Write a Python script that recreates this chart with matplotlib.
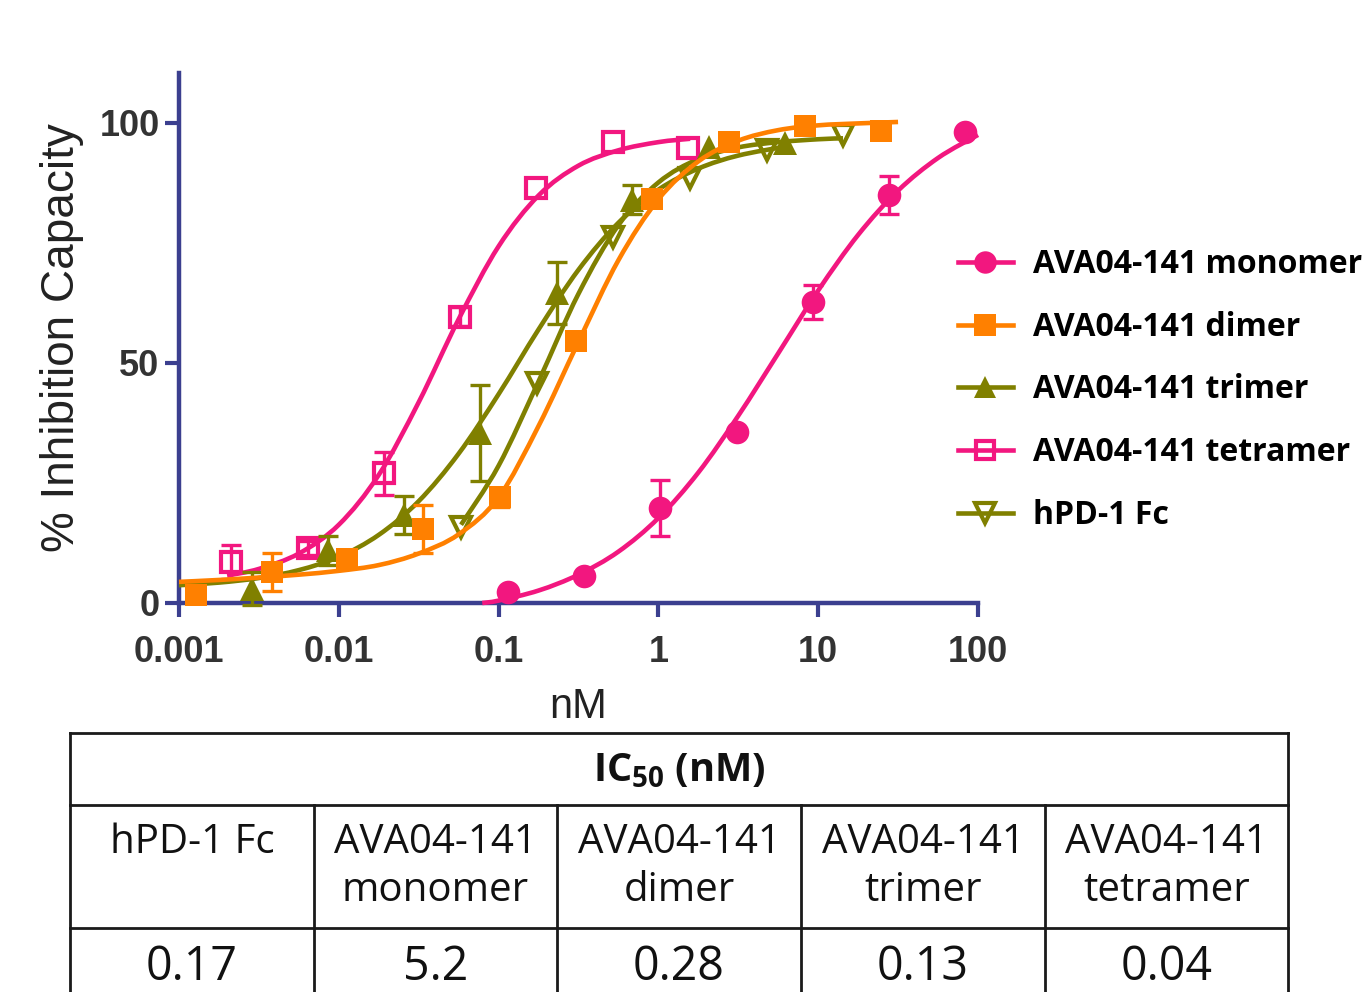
import numpy as np
import matplotlib
matplotlib.use('Agg')
import matplotlib.pyplot as plt
from matplotlib.lines import Line2D
from matplotlib.path import Path
from matplotlib.patches import PathPatch
from matplotlib.ticker import NullLocator

# ---- data ----
series = ['AVA04-141 monomer', 'AVA04-141 dimer', 'AVA04-141 trimer',
          'AVA04-141 tetramer', 'hPD-1 Fc']

# measured points (nM, % inhibition, error)
mono_x = [0.114, 0.343, 1.03, 3.09, 9.26, 27.8, 83.3]
mono_y = [2.3, 5.6, 19.8, 35.6, 62.7, 85.0, 98.1]
mono_err = [0, 0, 5.8, 0, 3.5, 4.0, 0]

dimer_x = [0.00128, 0.00382, 0.0113, 0.0336, 0.102, 0.305, 0.912, 2.77, 8.27, 24.7]
dimer_y = [1.7, 6.5, 9.2, 15.4, 22.0, 54.6, 84.2, 96.0, 99.4, 98.3]
dimer_err = [0, 3.9, 0, 5.0, 2.0, 0, 0, 0, 0, 0]

trimer_x = [0.00286, 0.0086, 0.0257, 0.0765, 0.232, 0.684, 2.07, 6.2]
trimer_y = [3.0, 11.0, 18.3, 35.4, 64.6, 84.0, 95.0, 95.8]
trimer_err = [3.5, 3.0, 4.0, 10.0, 6.5, 3.0, 0, 0]

tetra_x = [0.00211, 0.00642, 0.0192, 0.0573, 0.171, 0.520, 1.53]
tetra_y = [8.5, 11.5, 27.0, 59.6, 86.4, 96.0, 94.8]
tetra_err = [3.5, 1.5, 4.5, 2.0, 0, 0, 0]

hpd_x = [0.0582, 0.174, 0.520, 1.58, 4.78, 14.3]
hpd_y = [15.8, 45.8, 76.3, 88.5, 94.4, 97.5]
hpd_err = [0, 0, 0, 0, 0, 0]

# fitted curves
mono_cx = [0.079, 0.1, 0.178, 0.316, 0.562, 1.0, 1.78, 3.16, 5.62, 10.0, 17.8, 31.6, 56.2, 100.0]
mono_cy = [0.0, 0.5, 2.6, 5.9, 10.7, 17.7, 27.2, 39.0, 52.0, 65.1, 76.7, 85.9, 92.7, 97.5]

dimer_cx = [0.001, 0.00178, 0.00316, 0.00562, 0.01, 0.0178, 0.0316, 0.0562, 0.1, 0.178,
            0.316, 0.562, 1.0, 1.78, 3.16, 5.62, 10.0, 17.8, 31.6]
dimer_cy = [4.4, 4.8, 5.3, 5.9, 6.7, 7.9, 10.3, 14.3, 22.0, 36.9,
            54.4, 71.4, 84.1, 92.0, 96.3, 98.5, 99.5, 99.9, 100.2]

trimer_cx = [0.001, 0.00178, 0.00316, 0.00562, 0.01, 0.0178, 0.0316, 0.0562, 0.1, 0.178,
             0.316, 0.562, 1.0, 1.78, 3.16, 6.31]
trimer_cy = [3.7, 4.25, 5.2, 6.85, 9.6, 14.2, 21.2, 31.1, 43.5, 57.0,
             69.4, 79.2, 86.1, 90.5, 93.2, 95.1]

tetra_cx = [0.002, 0.00316, 0.00562, 0.01, 0.0178, 0.0316, 0.0562, 0.1, 0.178, 0.316,
            0.562, 1.0, 1.58]
tetra_cy = [5.7, 7.1, 10.3, 16.3, 26.7, 41.8, 59.1, 74.3, 84.9, 91.1,
            94.3, 96.0, 96.7]

hpd_cx = [0.0582, 0.1, 0.178, 0.316, 0.562, 1.0, 1.78, 3.16, 5.62, 10.0, 14.3]
hpd_cy = [16.3, 28.6, 46.2, 64.4, 78.7, 87.6, 92.5, 94.9, 96.0, 96.6, 96.8]

x_ticks = [0.001, 0.01, 0.1, 1, 10, 100]
x_ticklabels = ['0.001', '0.01', '0.1', '1', '10', '100']
y_ticks = [0, 50, 100]

table_header = ['hPD-1 Fc', 'AVA04-141\nmonomer', 'AVA04-141\ndimer',
                'AVA04-141\ntrimer', 'AVA04-141\ntetramer']
table_ic50 = ['0.17', '5.2', '0.28', '0.13', '0.04']

# ---- styling ----
pink = '#F2177F'
orange = '#FF8000'
olive = '#808000'
navy = '#3B3F8F'
LW = 3.3

W, H = 1367, 992
fig = plt.figure(figsize=(W / 100, H / 100), dpi=100)
plt.rcParams['mathtext.fontset'] = 'custom'
plt.rcParams['mathtext.rm'] = 'Open Sans'
plt.rcParams['mathtext.bf'] = 'Open Sans:bold'


def px_box(x0, y0, x1, y1):
    return [x0 / W, 1 - y1 / H, (x1 - x0) / W, (y1 - y0) / H]


def smooth_path(xs, ys):
    # bezier through the read points (catmull-rom in log-x space)
    lx = np.log10(xs)
    y = np.asarray(ys, dtype=float)
    n = len(lx)
    verts = [(xs[0], y[0])]
    codes = [Path.MOVETO]
    for i in range(n - 1):
        a = max(i - 1, 0)
        b = min(i + 2, n - 1)
        c1 = (lx[i] + (lx[i + 1] - lx[a]) / 6, y[i] + (y[i + 1] - y[a]) / 6)
        c2 = (lx[i + 1] - (lx[b] - lx[i]) / 6, y[i + 1] - (y[b] - y[i]) / 6)
        verts += [(10 ** c1[0], c1[1]), (10 ** c2[0], c2[1]), (xs[i + 1], y[i + 1])]
        codes += [Path.CURVE4] * 3
    return Path(verts, codes)


ax = fig.add_axes(px_box(179, 73, 978, 603))
ax.set_xscale('log')
ax.set_xlim(0.001, 100)
ax.set_ylim(0, 110.4)

styles = [
    dict(c=pink, marker='o', ms=17, mfc=pink, mew=0),
    dict(c=orange, marker='s', ms=16.5, mfc=orange, mew=0),
    dict(c=olive, marker='^', ms=17, mfc=olive, mew=0),
    dict(c=pink, marker='s', ms=14, mfc='none', mew=3),
    dict(c=olive, marker='v', ms=14.5, mfc='none', mew=3),
]
data = [
    (mono_x, mono_y, mono_err, mono_cx, mono_cy),
    (dimer_x, dimer_y, dimer_err, dimer_cx, dimer_cy),
    (trimer_x, trimer_y, trimer_err, trimer_cx, trimer_cy),
    (tetra_x, tetra_y, tetra_err, tetra_cx, tetra_cy),
    (hpd_x, hpd_y, hpd_err, hpd_cx, hpd_cy),
]

for i in reversed(range(len(series))):
    x, y, e, cx, cy = data[i]
    st = styles[i]
    z = 10 - i
    ax.add_patch(PathPatch(smooth_path(cx, cy), fill=False, edgecolor=st['c'],
                           lw=LW, zorder=z, clip_on=False, capstyle='butt'))
    x = np.array(x)
    y = np.array(y)
    e = np.array(e)
    m = e > 0
    if m.any():
        ax.errorbar(x[m], y[m], yerr=e[m], fmt='none', ecolor=st['c'],
                    elinewidth=2.4, capsize=7.5, capthick=2.4, zorder=z,
                    clip_on=False)
    ax.plot(x, y, ls='none', marker=st['marker'], ms=st['ms'],
            mfc=st['mfc'], mec=st['c'], mew=st['mew'], zorder=z + 0.5,
            clip_on=False)

handles = []
for i in range(len(series)):
    st = styles[i]
    handles.append(Line2D([], [], color=st['c'], lw=LW, marker=st['marker'],
                          ms=st['ms'] * 0.95, mfc=st['mfc'], mec=st['c'],
                          mew=st['mew']))

for s in ['top', 'right']:
    ax.spines[s].set_visible(False)
for s in ['left', 'bottom']:
    ax.spines[s].set_color(navy)
    ax.spines[s].set_linewidth(3.2)

ax.set_xticks(x_ticks)
ax.set_xticklabels(x_ticklabels)
ax.xaxis.set_minor_locator(NullLocator())
ax.set_yticks(y_ticks)
ax.tick_params(length=10, width=3, color=navy, labelcolor='#333333',
               labelsize=26)
ax.tick_params(axis='x', pad=13)
ax.tick_params(axis='y', pad=4)
for lab in ax.get_xticklabels() + ax.get_yticklabels():
    lab.set_fontfamily('Liberation Sans')
    lab.set_fontweight('bold')

ax.set_ylabel('% Inhibition Capacity', fontsize=33, family='Liberation Sans',
              color='#222222', labelpad=11)
ax.set_xlabel('nM', fontsize=30, family='Liberation Sans', color='#222222',
              labelpad=12)

fig.legend(handles, series, loc='center left',
           bbox_to_anchor=(958 / W, 1 - 390 / H), frameon=False,
           prop={'family': 'Open Sans', 'weight': 'bold', 'size': 23},
           handlelength=1.72, handletextpad=0.64, labelspacing=0.93,
           borderpad=0, borderaxespad=0)

# ---- IC50 table ----
tab = fig.add_axes([0, 0, 1, 1], zorder=-1)
tab.set_xlim(0, W)
tab.set_ylim(H, 0)
tab.axis('off')

col_edges = [70, 314, 557, 801, 1045, 1288]
lc = '#1a1a1a'
for yy in [733, 805, 928]:
    tab.plot([70, 1288], [yy, yy], color=lc, lw=2.0)
for xx in [70, 1288]:
    tab.plot([xx, xx], [733, 1000], color=lc, lw=2.0)
for xx in col_edges[1:-1]:
    tab.plot([xx, xx], [805, 1000], color=lc, lw=2.0)

tab.text(679, 781, r'IC$_{\mathbf{50}}$ (nM)', ha='center', va='baseline',
         fontsize=28.5, fontweight='bold', family='Open Sans', color='#111111')
for j in range(len(table_header)):
    cxm = (col_edges[j] + col_edges[j + 1]) / 2
    lines = table_header[j].split('\n')
    for k, ln in enumerate(lines):
        tab.text(cxm, 853 + 48 * k, ln, ha='center', va='baseline',
                 fontsize=29, family='Open Sans', color='#111111')
    tab.text(cxm, 980, table_ic50[j], ha='center', va='baseline',
             fontsize=33.5, family='Open Sans', color='#111111')

fig.savefig('out.png', dpi=100)
